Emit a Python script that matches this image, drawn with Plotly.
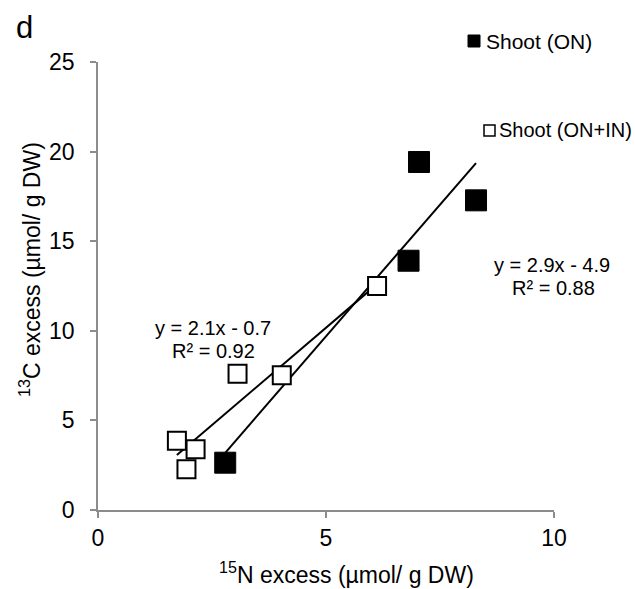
import numpy as np
import plotly.graph_objects as go

# Data
on_x = [2.79, 6.81, 7.04, 8.29]
on_y = [2.64, 13.91, 19.42, 17.28]
onin_x = [1.73, 1.94, 2.14, 3.06, 4.03, 6.12]
onin_y = [3.87, 2.27, 3.39, 7.61, 7.52, 12.5]

on_label = "Shoot (ON)"
onin_label = "Shoot (ON+IN)"
eq_on = ["y = 2.9x - 4.9", "R² = 0.88"]
eq_onin = ["y = 2.1x - 0.7", "R² = 0.92"]

x_ticks = [0, 5, 10]
y_ticks = [0, 5, 10, 15, 20, 25]

FONT = "Liberation Sans, Arial, sans-serif"
W, H = 635, 589
ML, MR, MT, MB = 98, 81, 62, 79
PW, PH = W - ML - MR, H - MT - MB


def px2paper(x, y):
    return (x - ML) / PW, 1 - (y - MT) / PH


fig = go.Figure()

# trend lines (least squares on the data)
for xs, ys in [(on_x, on_y), (onin_x, onin_y)]:
    m, b = np.polyfit(xs, ys, 1)
    lx = np.array([min(xs), max(xs)])
    fig.add_trace(go.Scatter(x=lx, y=m * lx + b, mode="lines",
                             line=dict(color="black", width=2),
                             showlegend=False, hoverinfo="skip"))

fig.add_trace(go.Scatter(x=on_x, y=on_y, mode="markers", name=on_label,
                         marker=dict(symbol="square", size=21, color="black",
                                     line=dict(color="black", width=1)),
                         showlegend=False))
fig.add_trace(go.Scatter(x=onin_x, y=onin_y, mode="markers", name=onin_label,
                         marker=dict(symbol="square", size=18, color="white",
                                     line=dict(color="black", width=2)),
                         showlegend=False))

axis_common = dict(showgrid=False, zeroline=False, showline=True,
                   linecolor="#8c8c8c", linewidth=1.5, ticks="outside",
                   tickcolor="#8c8c8c", tickwidth=1.5, ticklen=6,
                   tickfont=dict(family=FONT, size=23, color="black"))

fig.update_xaxes(range=[0, 10], tickvals=x_ticks, ticklabelstandoff=1, **axis_common)
fig.update_yaxes(range=[0, 25], tickvals=y_ticks, ticklabelstandoff=11, **axis_common)

annotations = [
    dict(text="d", x=14, y=27, size=31, xanchor="left"),
    dict(text="<sup>15</sup>N excess (µmol/ g DW)", x=346, y=573, size=23),
    dict(text="<sup>13</sup>C excess (µmol/ g DW)", x=30, y=270, size=23, textangle=-90),
    dict(text=eq_onin[0], x=213, y=328, size=20),
    dict(text=eq_onin[1], x=213, y=351, size=20),
    dict(text=eq_on[0], x=552, y=265, size=20),
    dict(text=eq_on[1], x=553, y=288, size=20),
    dict(text=on_label, x=484, y=41, size=21, xanchor="left"),
    dict(text=onin_label, x=497, y=130, size=20, xanchor="left"),
]
anns = []
for a in annotations:
    px, py = px2paper(a["x"], a["y"])
    anns.append(dict(xref="paper", yref="paper", showarrow=False,
                     x=px, y=py, text=a["text"],
                     xanchor=a.get("xanchor", "center"), yanchor="middle",
                     textangle=a.get("textangle", 0),
                     font=dict(family=FONT, color="black", size=a["size"])))

# legend squares
x0, y0 = px2paper(468, 47)
x1, y1 = px2paper(480, 35)
x2, y2 = px2paper(484, 136)
x3, y3 = px2paper(495, 125)
shapes = [
    dict(type="rect", xref="paper", yref="paper", x0=x0, x1=x1, y0=y0, y1=y1,
         fillcolor="black", line=dict(color="black", width=1)),
    dict(type="rect", xref="paper", yref="paper", x0=x2, x1=x3, y0=y2, y1=y3,
         fillcolor="white", line=dict(color="black", width=1.5)),
]

fig.update_layout(width=W, height=H, margin=dict(l=ML, r=MR, t=MT, b=MB),
                  plot_bgcolor="white", paper_bgcolor="white",
                  annotations=anns, shapes=shapes,
                  font=dict(family=FONT, color="black"))

fig.write_html("out.html")
